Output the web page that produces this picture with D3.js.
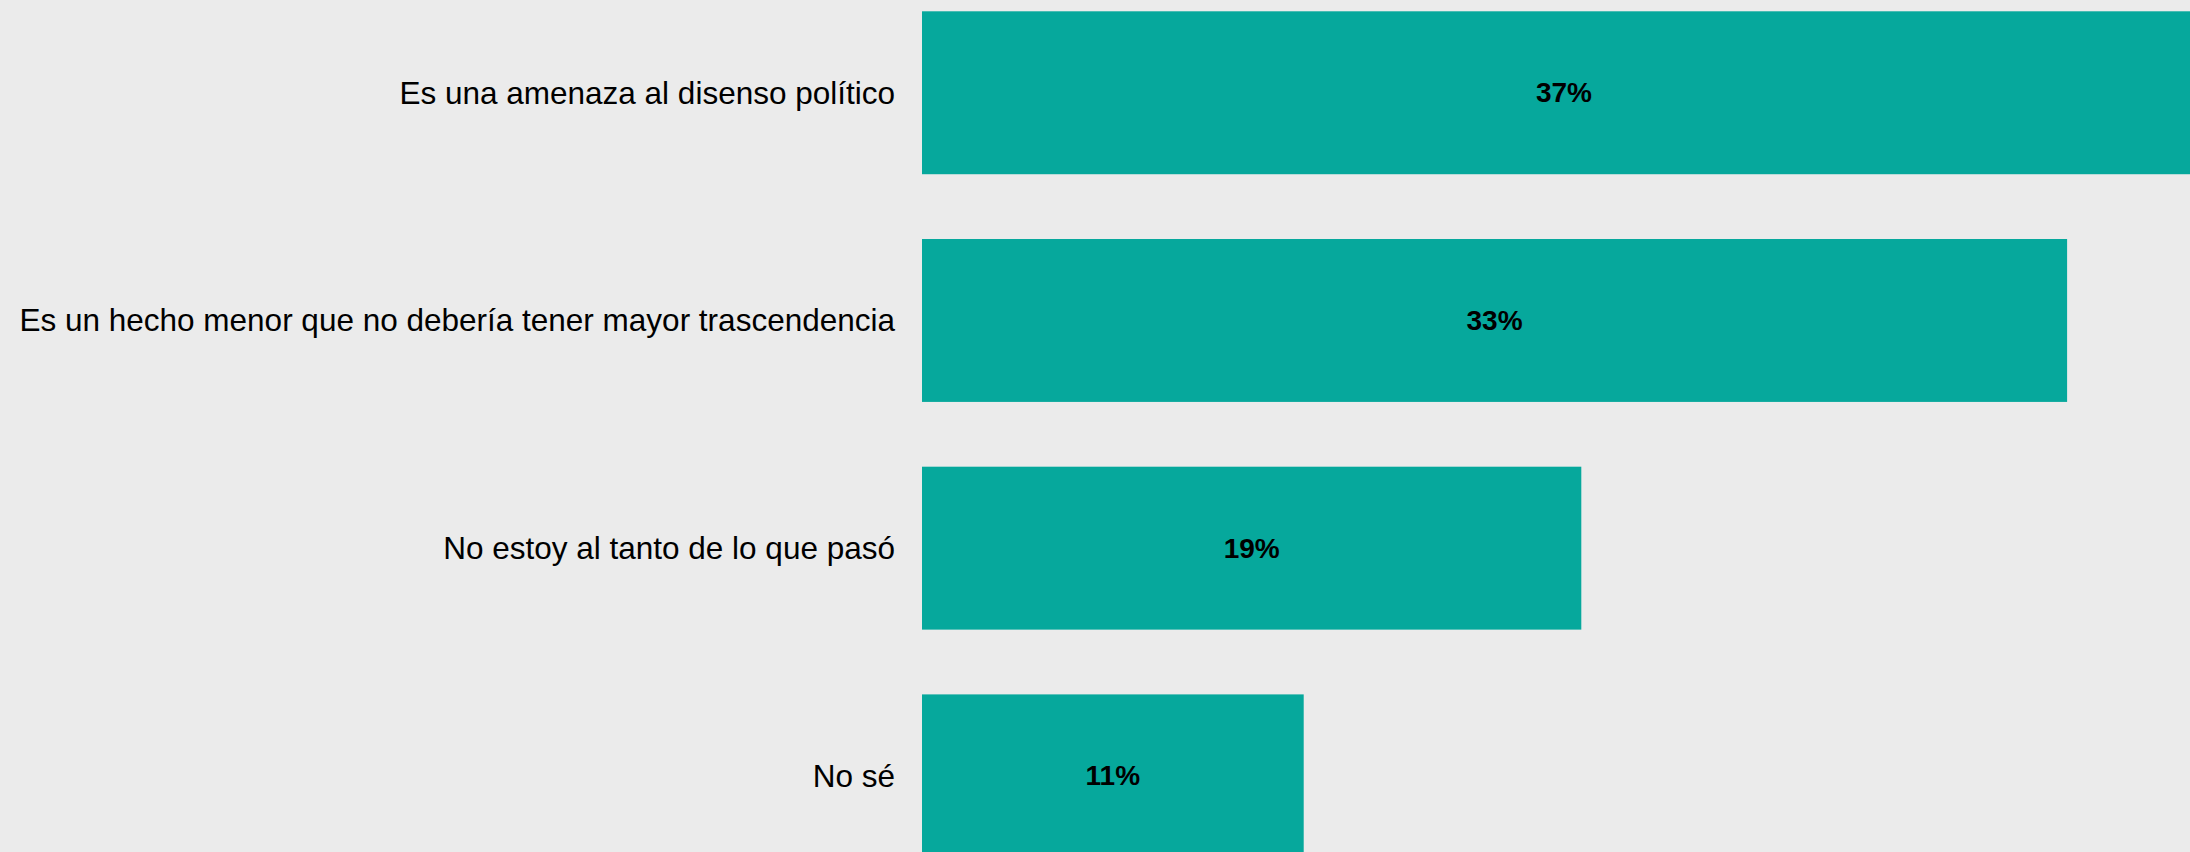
<!DOCTYPE html>
<html>
<head>
<meta charset="utf-8">
<script src="https://cdn.jsdelivr.net/npm/d3@7"></script>
<style>
  html, body { margin: 0; padding: 0; background: #ebebeb; overflow: hidden; }
  svg { display: block; }
</style>
</head>
<body>
<svg id="chart" width="2190" height="852"></svg>
<script>
const categories = [
  "Es una amenaza al disenso político",
  "Es un hecho menor que no debería tener mayor trascendencia",
  "No estoy al tanto de lo que pasó",
  "No sé"
];
const values = [37, 33, 19, 11];
const valueLabels = ["37%", "33%", "19%", "11%"];

const W = 2190, H = 852;
const svg = d3.select("#chart");
svg.append("rect").attr("width", W).attr("height", H).attr("fill", "#ebebeb");

const x0 = 922, pxPerUnit = 34.7;
const x = d3.scaleLinear().domain([0, 37]).range([x0, x0 + 37 * pxPerUnit]);

const step = 227.7, padIn = 0.2845, yTop = 11.3;
const y = d3.scaleBand()
  .domain(categories)
  .range([yTop, yTop + step * (categories.length - padIn)])
  .paddingInner(padIn)
  .paddingOuter(0)
  .align(0);

const data = categories.map((c, i) => ({ c, v: values[i], l: valueLabels[i] }));

svg.selectAll("rect.bar").data(data).join("rect")
  .attr("class", "bar")
  .attr("x", x(0))
  .attr("y", d => y(d.c))
  .attr("width", d => x(d.v) - x(0))
  .attr("height", y.bandwidth())
  .attr("fill", "#06a89c");

svg.selectAll("text.val").data(data).join("text")
  .attr("class", "val")
  .attr("x", d => (x(0) + x(d.v)) / 2)
  .attr("y", d => y(d.c) + y.bandwidth() / 2)
  .attr("text-anchor", "middle")
  .attr("dominant-baseline", "central")
  .attr("font-family", "Liberation Sans, Arial, sans-serif")
  .attr("font-weight", "bold")
  .attr("font-size", 28)
  .attr("fill", "#000")
  .text(d => d.l);

const yAxis = d3.axisLeft(y).tickSize(0).tickPadding(0);
const gAxis = svg.append("g")
  .attr("transform", `translate(895,0)`)
  .call(yAxis);
gAxis.select(".domain").remove();
gAxis.selectAll("text")
  .attr("font-family", "Liberation Sans, Arial, sans-serif")
  .attr("font-size", 31.5)
  .attr("fill", "#000")
  .attr("dy", "0.35em");
</script>
</body>
</html>
